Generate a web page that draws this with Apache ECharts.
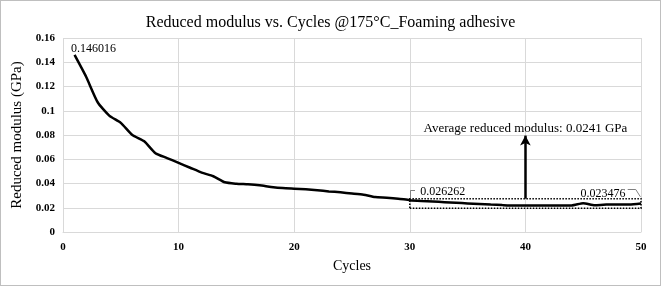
<!DOCTYPE html>
<html>
<head>
<meta charset="utf-8">
<script src="https://cdn.jsdelivr.net/npm/echarts@6/dist/echarts.min.js"></script>
<style>
  html, body { margin: 0; padding: 0; background: #fff; }
  #chart { width: 661px; height: 286px; box-sizing: border-box; border: 1px solid #bfbfbf; }
</style>
</head>
<body>
<div id="chart"></div>
<script>
// cycles 1..50 and reduced modulus (GPa)
const cycles = Array.from({ length: 50 }, (_, i) => i + 1);
const modulus = [
  0.146016, 0.128, 0.107, 0.096, 0.090, 0.080, 0.075, 0.065, 0.061, 0.057,
  0.053, 0.049, 0.046, 0.041, 0.0398, 0.0393, 0.0385, 0.0372, 0.0362, 0.0357,
  0.0352, 0.0344, 0.0335, 0.0327, 0.0318, 0.0308, 0.0288, 0.0283, 0.0275, 0.026262,
  0.0256, 0.0251, 0.0246, 0.0241, 0.0236, 0.0231, 0.0226, 0.0222, 0.0219, 0.0219,
  0.0219, 0.0219, 0.0219, 0.0219, 0.0238, 0.0221, 0.0226, 0.0226, 0.0226, 0.023476
];
const labelled = { 1: "0.146016", 30: "0.026262", 50: "0.023476" };
const avgText = "Average reduced modulus: 0.0241 GPa";
const boxRange = [[30, 0.0195], [50, 0.0275]];
const arrowFromTo = [[40, 0.0275], [40, 0.0795]];
// small bracket leaders next to the 30 / 50 labels
const leaders = [
  [[30.05, 0.0278], [30.05, 0.0343]],
  [[30.05, 0.0343], [30.45, 0.0343]],
  [[48.85, 0.0350], [49.55, 0.0350]],
  [[49.55, 0.0350], [49.95, 0.0290]]
];

const font = "'Liberation Serif', 'Times New Roman', serif";
const labelOffsets = { 1: [19, 5], 30: [33, 3], 50: [-38, 1] };

const seriesData = cycles.map((c, i) => {
  const item = { value: [c, modulus[i]] };
  if (labelled[c]) {
    item.label = {
      show: true,
      formatter: labelled[c],
      position: "top",
      offset: labelOffsets[c],
      color: "#000", fontFamily: font, fontSize: 12
    };
  }
  return item;
});

const lineData = [[
  { coord: arrowFromTo[0] },
  { coord: arrowFromTo[1], label: { show: true, position: "end", formatter: avgText, color: "#000",
      fontFamily: font, fontSize: 13, distance: 1 } }
]].concat(leaders.map(s => [
  { coord: s[0], symbol: "none", lineStyle: { color: "#808080", width: 1 }, label: { show: false } },
  { coord: s[1], symbol: "none" }
]));

const chart = echarts.init(document.getElementById("chart"));
chart.setOption({
  animation: false,
  title: {
    text: "Reduced modulus vs. Cycles @175°C_Foaming adhesive",
    left: "center", top: 9,
    textStyle: { fontFamily: font, fontSize: 16, fontWeight: "normal", color: "#000" }
  },
  grid: { left: 62, right: 19, top: 37, bottom: 53 },
  xAxis: {
    type: "value", min: 0, max: 50, interval: 10,
    name: "Cycles", nameLocation: "middle", nameGap: 27,
    nameTextStyle: { fontFamily: font, fontSize: 14, color: "#000" },
    axisLine: { show: true, lineStyle: { color: "#d9d9d9" } },
    axisTick: { show: false },
    axisLabel: { fontFamily: font, fontSize: 11, fontWeight: "bold", color: "#000", margin: 10 },
    splitLine: { show: true, lineStyle: { color: "#d9d9d9" } }
  },
  yAxis: {
    type: "value", min: 0, max: 0.16, interval: 0.02,
    name: "Reduced modulus (GPa)", nameLocation: "middle", nameGap: 31,
    nameTextStyle: { fontFamily: font, fontSize: 15, color: "#000" },
    axisLine: { show: false },
    axisTick: { show: false },
    axisLabel: { fontFamily: font, fontSize: 11, fontWeight: "bold", color: "#000", margin: 8,
      formatter: v => String(+v.toFixed(2)) },
    splitLine: { show: true, lineStyle: { color: "#d9d9d9" } }
  },
  series: [{
    type: "line",
    data: seriesData,
    showSymbol: true,
    symbol: "circle",
    symbolSize: 0.1,
    itemStyle: { color: "#000" },
    smooth: 0.2,
    lineStyle: { color: "#000", width: 2.5 },
    markArea: {
      silent: true,
      itemStyle: { color: "rgba(0,0,0,0)", borderColor: "#000", borderWidth: 1.5, borderType: "dotted" },
      data: [[{ coord: boxRange[0] }, { coord: boxRange[1] }]]
    },
    markLine: {
      silent: true,
      symbol: ["none", "arrow"],
      symbolSize: [8, 10],
      lineStyle: { color: "#000", width: 2.5, type: "solid" },
      label: { show: false },
      data: lineData
    }
  }]
});
</script>
</body>
</html>
